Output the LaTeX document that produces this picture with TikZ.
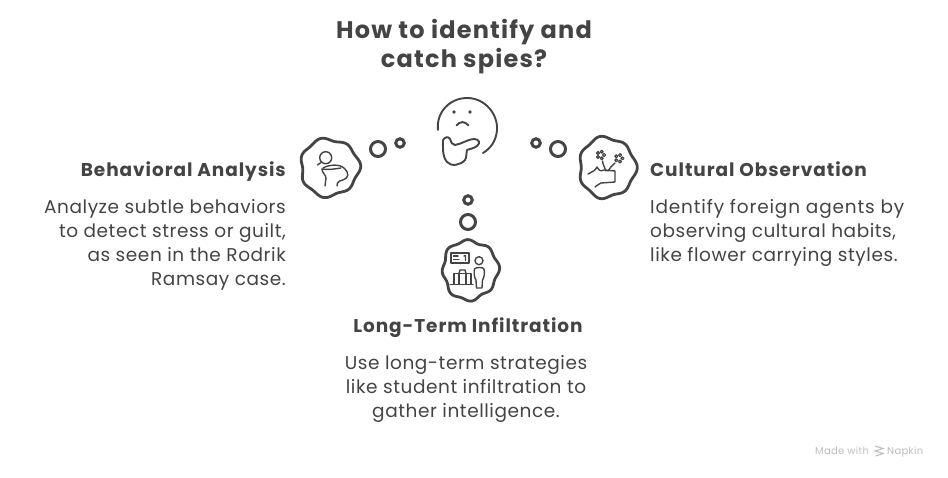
\documentclass[tikz,border=0pt]{standalone}
\usepackage{fontspec}
\setmainfont{Poppins}[LetterSpace=3,BoldFeatures={LetterSpace=5}]
\definecolor{ink}{HTML}{444444}
\definecolor{wm}{HTML}{BDBDBD}
\newcommand{\cloud}[6]{% cx cy rx ry phase n
  \draw[sketch,line width=2.8pt] plot[smooth cycle,samples=90,domain=0:356,variable=\t]
    ({#1+(#3+1.3*cos(#6*\t+#5)+1.0*cos(3*\t+#5))*cos(\t)},{#2+(#4+1.3*cos(#6*\t+#5)+1.0*cos(3*\t+#5))*sin(\t)});}
\tikzset{
  sketch/.style={draw=ink,line width=1.4pt,line cap=round,line join=round},
  facepen/.style={sketch,line width=1.9pt},
  bubble/.style={circle,draw=ink,line width=3pt,inner sep=0pt,fill=none},
  big/.style={bubble,minimum size=15pt},
  small/.style={bubble,minimum size=8.5pt},
  title/.style={text=ink,font=\fontsize{24}{29}\selectfont\bfseries,inner sep=0pt},
  head/.style={text=ink,font=\fontsize{18.5}{24}\selectfont\bfseries,inner sep=0pt},
  body/.style={text=ink,font=\fontsize{18.5}{24}\selectfont,inner sep=0pt},
}
\begin{document}
\begin{tikzpicture}[x=1pt,y=-1pt]
\useasboundingbox (0,0) rectangle (948,478);
% title
\node[title,align=center] (ttl) at (464,47) {How to identify and\\catch spies?};
% face
\draw[facepen] (438,130) .. controls (436,112) and (450,98) .. (467,98)
  .. controls (485,98) and (498,114) .. (497,130) .. controls (496,141) and (491,148) .. (483,153);
\fill[ink] (454,112) circle (1.8) (470,112) circle (1.8);
\draw[facepen] (456.5,125.5) .. controls (460,121) and (465,121) .. (468.5,125.5);
\draw[facepen] (443,140) .. controls (445,137) and (448,136) .. (450,139)
  .. controls (451,142) and (452,145) .. (455,145) .. controls (462,144) and (468,139) .. (474,139)
  .. controls (479,139) and (481,143) .. (477,146) .. controls (473,149) and (469,149) .. (467,150)
  .. controls (466,153) and (467,157) .. (465,160) .. controls (461,165) and (451,167) .. (447,162)
  .. controls (442,156) and (443,147) .. (443,140);
% bubbles
\node[big] (bl1) at (378,149) {};
\node[small] (bl2) at (400,143) {};
\node[small] (br2) at (536,143) {};
\node[big] (br1) at (558,149) {};
\node[small] (bb2) at (468,200) {};
\node[big] (bb1) at (468,222) {};
% clouds
\cloud{329.5}{167.5}{29}{28.5}{20}{7}
\cloud{607}{167.5}{28}{30}{0}{7}
\cloud{470}{270}{27.5}{29.5}{30}{8}
% left icon
\draw[sketch] (325.7,157.7) circle (6);
\draw[sketch] (321.5,162) -- (317.5,165);
\draw[sketch] (323,168) .. controls (328,165) and (340,163) .. (345,169)
  .. controls (349,173) and (349,178) .. (343,180) .. controls (339,181) and (337,182) .. (337,186);
\draw[sketch] (322,169) .. controls (328,170) and (335,169) .. (341,168);
\draw[sketch] (322,169) .. controls (322,173) and (326,175) .. (326,178) -- (325,186);
% right icon
\foreach \a in {0,72,...,288}{
  \draw[sketch,line width=1.2pt] ([shift={(\a:3.4)}]600.7,155) circle (1.5);
  \draw[sketch,line width=1.2pt] ([shift={(\a:3.4)}]619,158.3) circle (1.5);
}
\draw[sketch] (602.5,161) .. controls (603,165) and (605,168) .. (606,171);
\draw[sketch] (615,163) .. controls (612,165) and (610,168) .. (608,171);
\draw[sketch] (588,174) .. controls (592,172) and (596,170) .. (597,167)
  .. controls (599,170) and (600,172) .. (604,170) -- (615,171)
  -- (615,182) -- (601,183) .. controls (598,184) and (597,186) .. (595,187);
% bottom icon
\draw[sketch] (451,253) rectangle (469,263);
\draw[sketch] (453.5,256) -- (458,256) (453.5,259.5) -- (459,259.5);
\draw[sketch] (464,256) -- (465.5,255.5) -- (465.5,260.5);
\draw[sketch] (479,260.7) circle (4);
\draw[sketch] (476.5,288) -- (476,280) .. controls (474,278) and (474,272) .. (474.5,269)
  .. controls (476,267) and (483,267) .. (484,269)
  .. controls (485,273) and (484,278) .. (482.5,280) -- (482,288) -- cycle;
\draw[sketch] (454,284) -- (454,273.5) -- (471,273.5) -- (471,284);
\draw[sketch] (459,273.5) -- (459,284) (466,273.5) -- (466,284);
\draw[sketch] (459,273.5) -- (460,270) -- (465,270) -- (466,273.5);
\draw[sketch] (450,284.5) -- (473,284.5);
% labels
\node[head,anchor=base east] (hl) at (286,176.5) {Behavioral Analysis};
\node[body,anchor=north east,align=right] (tl) at (286,199) {Analyze subtle behaviors\\to detect stress or guilt,\\as seen in the Rodrik\\Ramsay case.};
\node[head,anchor=base west] (hr) at (650,176.5) {Cultural Observation};
\node[body,anchor=north west,align=left] (tr) at (650,199) {\addfontfeature{LetterSpace=4.5}Identify foreign agents by\\observing cultural habits,\\like flower carrying styles.};
\node[head,anchor=base] (hb) at (468,332.5) {Long-Term Infiltration};
\node[body,anchor=north,align=center] (tb) at (466,355) {Use long-term strategies\\like student infiltration to\\gather intelligence.};
% watermark
\node[text=wm,font=\fontsize{10}{13}\selectfont,inner sep=0pt,anchor=base west] (wm1) at (815,454) {Made with};
\node[text=wm,font=\fontsize{10}{13}\selectfont,inner sep=0pt,anchor=base west] (wm2) at (887,454) {Napkin};
\draw[wm,line width=1.1pt] (875,446) -- (883,448.5) -- (875,451) -- (883,453.5) -- (876,456);
\end{tikzpicture}
\end{document}
